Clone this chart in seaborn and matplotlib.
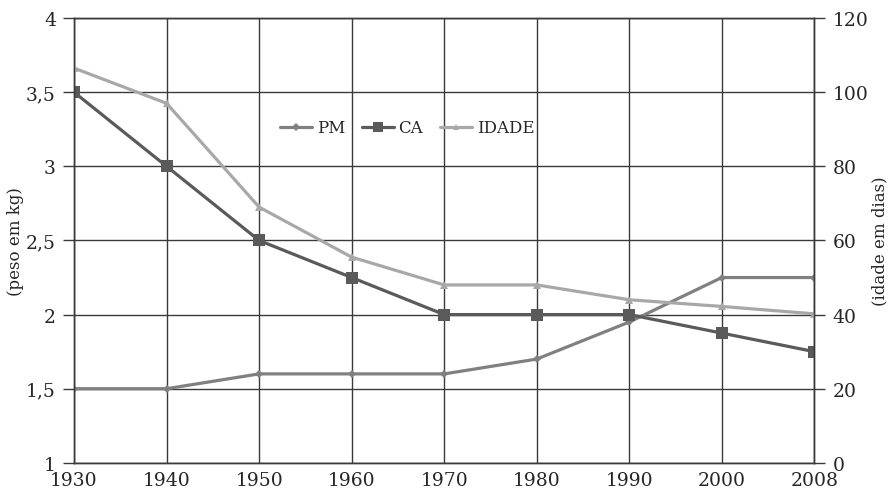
import seaborn as sns
import matplotlib.pyplot as plt
import pandas as pd

# data
years = ['1930', '1940', '1950', '1960', '1970', '1980', '1990', '2000', '2008']
pm = [1.5, 1.5, 1.6, 1.6, 1.6, 1.7, 1.95, 2.25, 2.25]
ca = [3.5, 3.0, 2.5, 2.25, 2.0, 2.0, 2.0, 1.875, 1.75]
idade = [106.5, 97, 69, 55.5, 48, 48, 44, 42.2, 40.2]

left_ticks = [1, 1.5, 2, 2.5, 3, 3.5, 4]
left_labels = ['1', '1,5', '2', '2,5', '3', '3,5', '4']
right_ticks = [0, 20, 40, 60, 80, 100, 120]

sns.set_theme(style='white')
plt.rcParams['font.family'] = ['DejaVu Serif']

df = pd.DataFrame({'pos': range(len(years)), 'PM': pm, 'CA': ca, 'IDADE': idade})

fig, ax1 = plt.subplots(figsize=(8.92, 5.02), dpi=100)
fig.subplots_adjust(left=0.083, right=0.913, top=0.962, bottom=0.076)
ax2 = ax1.twinx()

grid_c = '#3a3a3a'
txt_c = '#262626'
sns.lineplot(data=df, x='pos', y='PM', ax=ax1, color='#808080', lw=2.3,
             marker='D', markersize=4.5, markeredgewidth=0, label='PM', legend=False)
sns.lineplot(data=df, x='pos', y='CA', ax=ax1, color='#5a5a5a', lw=2.3,
             marker='s', markersize=9, markeredgewidth=0, label='CA', legend=False)
sns.lineplot(data=df, x='pos', y='IDADE', ax=ax2, color='#a8a8a8', lw=2.3,
             marker='^', markersize=6, markeredgewidth=0, label='IDADE', legend=False)

ax1.set_xlim(0, len(years) - 1)
ax1.set_ylim(1, 4)
ax2.set_ylim(0, 120)
ax1.set_xticks(range(len(years)))
ax1.set_xticklabels(years)
ax1.set_yticks(left_ticks)
ax1.set_yticklabels(left_labels)
ax2.set_yticks(right_ticks)

ax1.grid(True, color=grid_c, lw=1.0)
ax1.set_axisbelow(True)
for ax in (ax1, ax2):
    for s in ax.spines.values():
        s.set_color(grid_c)
        s.set_linewidth(1.0)

ax1.tick_params(axis='y', length=8, width=1, color=grid_c, labelsize=13.5, pad=5, labelcolor=txt_c)
ax1.tick_params(axis='x', length=5, width=1, color=grid_c, labelsize=13.5, pad=1, labelcolor=txt_c)
ax2.tick_params(axis='y', length=8, width=1, color=grid_c, labelsize=13.5, pad=5, labelcolor=txt_c)

ax1.set_xlabel('')
ax1.set_ylabel('(peso em kg)', fontsize=12, color=txt_c)
ax1.yaxis.set_label_coords(-0.068, 0.5)
ax2.set_ylabel('(idade em dias)', fontsize=12, color=txt_c)
ax2.yaxis.set_label_coords(1.077, 0.5)

h1, l1 = ax1.get_legend_handles_labels()
h2, l2 = ax2.get_legend_handles_labels()
leg = ax2.legend(h1 + h2, l1 + l2, loc='center', bbox_to_anchor=(0.45, 0.753), ncol=3,
                 frameon=False, fontsize=12, handlelength=1.9, columnspacing=1.0,
                 handletextpad=0.3, labelcolor=txt_c, markerscale=0.8)

plt.savefig('out.png', dpi=100)
plt.close()
